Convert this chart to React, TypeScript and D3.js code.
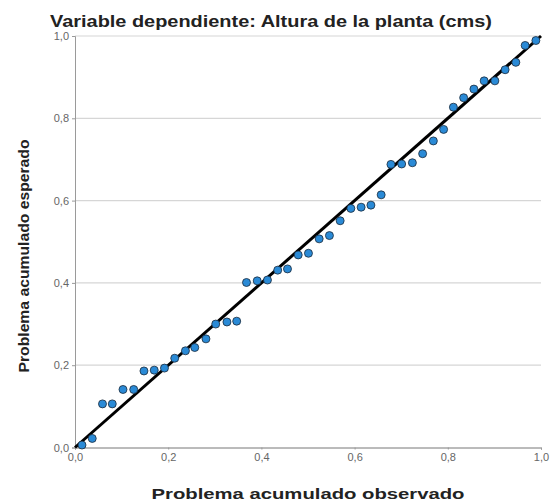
import React, { useRef, useEffect } from "react";
import * as d3 from "d3";

const observado = [
  0.015, 0.037, 0.059, 0.080, 0.103, 0.126, 0.148, 0.170, 0.192, 0.214,
  0.237, 0.257, 0.281, 0.302, 0.326, 0.347, 0.368, 0.391, 0.413, 0.435,
  0.456, 0.479, 0.501, 0.524, 0.546, 0.569, 0.592, 0.614, 0.635, 0.657,
  0.678, 0.701, 0.724, 0.746, 0.769, 0.791, 0.812, 0.834, 0.856, 0.878,
  0.901, 0.923, 0.946, 0.966, 0.989,
];
const esperado = [
  0.006, 0.022, 0.106, 0.106, 0.141, 0.141, 0.186, 0.188, 0.193, 0.217,
  0.235, 0.243, 0.264, 0.300, 0.305, 0.307, 0.401, 0.405, 0.407, 0.431,
  0.434, 0.468, 0.472, 0.507, 0.515, 0.551, 0.581, 0.584, 0.589, 0.614,
  0.688, 0.689, 0.692, 0.714, 0.745, 0.773, 0.827, 0.850, 0.871, 0.891,
  0.891, 0.918, 0.936, 0.977, 0.989,
];
const tickValues = [0, 0.2, 0.4, 0.6, 0.8, 1.0];
const tituloTexto = "Variable dependiente: Altura de la planta (cms)";
const ejeX = "Problema acumulado observado";
const ejeY = "Problema acumulado esperado";

const App = () => {
  const svgRef = useRef<SVGSVGElement>(null);
  const width = 552;
  const height = 504;
  const left = 75;
  const right = 541;
  const top = 36;
  const bottom = 447.5;

  useEffect(() => {
    const svg = d3.select(svgRef.current);
    svg.selectAll("*").remove();

    const xScale = d3.scaleLinear().domain([0, 1]).range([left, right]);
    const yScale = d3.scaleLinear().domain([0, 1]).range([bottom, top]);
    const fmt = (d: any) => d3.format(".1f")(d).replace(".", ",");

    // lineas de cuadricula
    svg.append("g")
      .selectAll("line")
      .data(tickValues.filter((d) => d > 0))
      .enter()
      .append("line")
      .attr("x1", left)
      .attr("x2", right)
      .attr("y1", (d) => yScale(d))
      .attr("y2", (d) => yScale(d))
      .style("stroke", "#d6d6d6")
      .style("stroke-width", 1.2);

    // eje Y
    const yAxis = svg.append("g")
      .attr("transform", `translate(${left},0)`)
      .call(d3.axisLeft(yScale).tickValues(tickValues).tickFormat(fmt).tickSize(3).tickPadding(3));
    yAxis.select(".domain").style("stroke", "#9a9a9a");
    yAxis.selectAll(".tick line").style("stroke", "#9a9a9a");
    yAxis.selectAll("text")
      .style("font-family", "Liberation Sans, Arial, sans-serif")
      .style("font-size", "11px")
      .style("fill", "#666");

    // eje X
    const xAxis = svg.append("g")
      .attr("transform", `translate(0,${bottom})`)
      .call(d3.axisBottom(xScale).tickValues(tickValues).tickFormat(fmt).tickSize(2).tickPadding(4));
    xAxis.select(".domain").style("stroke", "#777");
    xAxis.selectAll(".tick line").style("stroke", "#999");
    xAxis.selectAll("text")
      .style("font-family", "Liberation Sans, Arial, sans-serif")
      .style("font-size", "11px")
      .style("fill", "#666");

    // diagonal de referencia
    svg.append("line")
      .attr("x1", xScale(0))
      .attr("y1", yScale(0))
      .attr("x2", xScale(1))
      .attr("y2", yScale(1))
      .style("stroke", "#000")
      .style("stroke-width", 3);

    // puntos
    svg.append("g")
      .selectAll("circle")
      .data(observado)
      .enter()
      .append("circle")
      .attr("cx", (d) => xScale(d))
      .attr("cy", (d, i) => yScale(esperado[i]))
      .attr("r", 4)
      .style("fill", "#2a8ad6")
      .style("stroke", "#1b2a3a")
      .style("stroke-width", 0.8);

    // titulo
    svg.append("text")
      .attr("x", 50)
      .attr("y", 27)
      .attr("textLength", 442)
      .attr("lengthAdjust", "spacingAndGlyphs")
      .style("font-family", "Liberation Sans, Arial, sans-serif")
      .style("font-size", "17px")
      .style("font-weight", "bold")
      .style("fill", "#222")
      .text(tituloTexto);

    svg.append("text")
      .attr("x", 308)
      .attr("y", 499)
      .attr("text-anchor", "middle")
      .attr("textLength", 313)
      .attr("lengthAdjust", "spacingAndGlyphs")
      .style("font-family", "Liberation Sans, Arial, sans-serif")
      .style("font-size", "15px")
      .style("font-weight", "bold")
      .style("fill", "#222")
      .text(ejeX);

    svg.append("text")
      .attr("transform", `translate(29,256) rotate(-90)`)
      .attr("text-anchor", "middle")
      .attr("textLength", 233)
      .attr("lengthAdjust", "spacingAndGlyphs")
      .style("font-family", "Liberation Sans, Arial, sans-serif")
      .style("font-size", "15px")
      .style("font-weight", "bold")
      .style("fill", "#222")
      .text(ejeY);
  }, []);

  return (
    <div style={{ position: "absolute", left: 0, top: 0 }}>
      <svg ref={svgRef} width={width} height={height} style={{ display: "block", background: "#fff" }}></svg>
    </div>
  );
};

export default App;
